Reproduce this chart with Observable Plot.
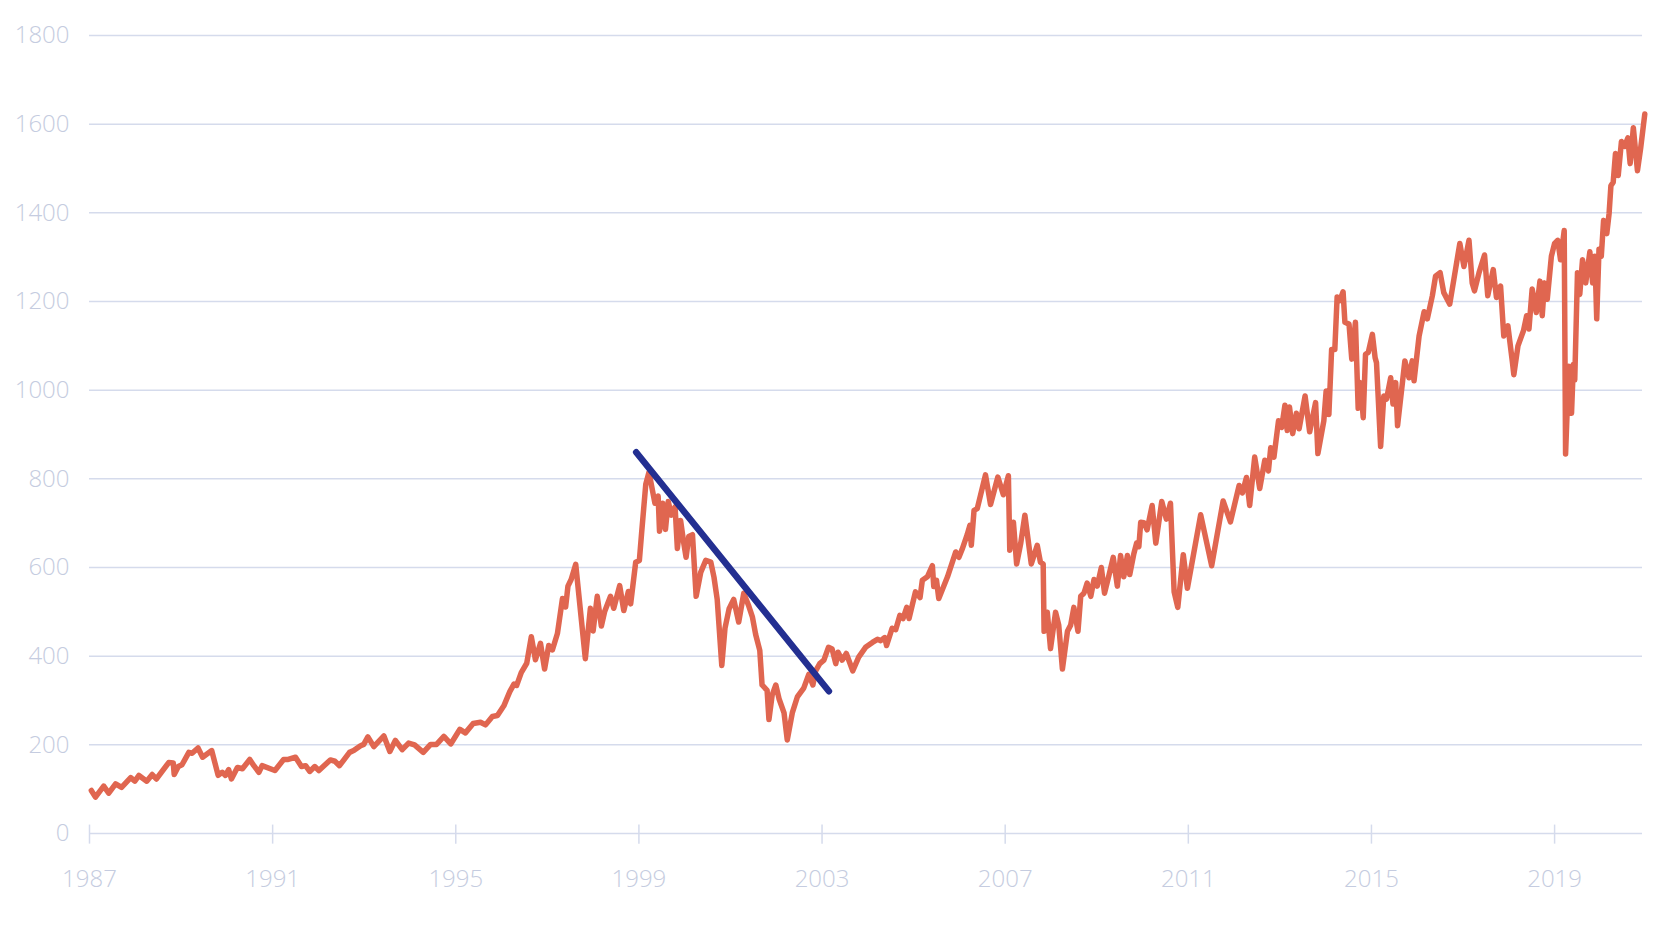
<!DOCTYPE html>
<html>
<head>
<meta charset="utf-8">
<script src="https://cdn.jsdelivr.net/npm/d3@7"></script>
<script src="https://cdn.jsdelivr.net/npm/@observablehq/plot@0.6"></script>
<style>
  html, body { margin: 0; padding: 0; background: #ffffff; }
  #chart svg { display: block; }
</style>
</head>
<body>
<div id="chart"></div>
<script>
// ---- data ----
const years = [
  1987.04,1987.13,1987.31,1987.42,1987.57,1987.70,1987.90,1987.99,1988.08,1988.25,1988.37,1988.46,1988.73,1988.83,1988.85,1988.94,
  1989.02,1989.17,1989.24,1989.37,1989.47,1989.67,1989.81,1989.90,1989.97,1990.04,1990.10,1990.23,1990.34,1990.50,1990.59,1990.70,1990.77,
  1991.05,1991.24,1991.34,1991.50,1991.63,1991.72,1991.81,1991.92,1992.01,1992.26,1992.36,1992.46,1992.68,1992.77,1992.92,1992.99,
  1993.08,1993.21,1993.43,1993.56,1993.68,1993.83,1993.97,1994.10,1994.29,1994.45,1994.58,1994.74,1994.89,
  1995.09,1995.21,1995.38,1995.54,1995.65,1995.80,1995.91,1996.05,1996.18,1996.27,1996.33,1996.43,1996.55,1996.65,1996.74,1996.85,1996.94,
  1997.03,1997.11,1997.22,1997.33,1997.40,1997.45,1997.52,1997.62,1997.83,1997.94,1998.00,1998.09,1998.18,1998.25,1998.38,1998.45,1998.58,
  1998.67,1998.77,1998.82,1998.93,1999.01,1999.06,1999.15,1999.22,1999.35,1999.42,1999.45,1999.52,1999.58,1999.64,1999.71,1999.79,1999.84,
  1999.91,1999.98,2000.03,2000.09,2000.17,2000.25,2000.35,2000.46,2000.57,2000.64,2000.71,2000.81,2000.88,2000.97,2001.07,2001.18,2001.29,
  2001.40,2001.48,2001.55,2001.64,2001.69,2001.80,2001.84,2001.91,2001.99,2002.06,2002.17,2002.24,2002.35,2002.46,2002.60,2002.71,2002.80,
  2002.86,2002.95,2003.04,2003.14,2003.22,2003.30,2003.35,2003.44,2003.53,2003.67,2003.80,2003.95,2004.10,2004.21,2004.28,2004.37,2004.41,
  2004.53,2004.61,2004.70,2004.77,2004.85,2004.90,2005.04,2005.14,2005.19,2005.30,2005.41,2005.44,2005.50,2005.55,2005.74,2005.92,2005.99,
  2006.06,2006.17,2006.23,2006.26,2006.32,2006.39,2006.57,2006.68,2006.84,2006.96,2007.07,2007.10,2007.18,2007.25,2007.34,2007.43,2007.57,
  2007.70,2007.77,2007.83,2007.85,2007.92,2007.99,2008.10,2008.17,2008.25,2008.36,2008.43,2008.50,2008.59,2008.65,2008.72,2008.79,2008.87,
  2008.94,2009.01,2009.10,2009.17,2009.27,2009.36,2009.45,2009.52,2009.59,2009.67,2009.72,2009.81,2009.87,2009.92,2009.96,2010.03,2010.10,
  2010.21,2010.29,2010.42,2010.52,2010.61,2010.69,2010.77,2010.89,2010.98,2011.27,2011.51,2011.76,2011.92,2012.11,2012.18,2012.27,2012.34,
  2012.45,2012.56,2012.67,2012.75,2012.80,2012.87,2012.97,2013.04,2013.11,2013.16,2013.21,2013.28,2013.36,2013.42,2013.55,2013.65,2013.78,
  2013.83,2013.96,2014.01,2014.07,2014.13,2014.20,2014.25,2014.31,2014.38,2014.42,2014.51,2014.57,2014.65,2014.71,2014.76,2014.82,2014.87,
  2014.93,2015.02,2015.08,2015.11,2015.20,2015.27,2015.33,2015.42,2015.47,2015.53,2015.57,2015.73,2015.82,2015.89,2015.93,2016.04,2016.15,
  2016.22,2016.33,2016.40,2016.50,2016.58,2016.71,2016.80,2016.93,2017.02,2017.13,2017.20,2017.25,2017.35,2017.47,2017.54,2017.66,2017.73,
  2017.82,2017.89,2017.98,2018.08,2018.11,2018.20,2018.32,2018.39,2018.44,2018.51,2018.60,2018.68,2018.73,2018.78,2018.84,2018.93,2019.00,
  2019.07,2019.13,2019.21,2019.24,2019.31,2019.37,2019.41,2019.44,2019.50,2019.55,2019.61,2019.68,2019.77,2019.83,2019.88,2019.92,2019.97,
  2020.02,2020.07,2020.14,2020.19,2020.23,2020.28,2020.33,2020.39,2020.46,2020.53,2020.60,2020.65,2020.72,2020.81,2020.88,2020.97
];
const values = [
  97,82,107,91,112,104,126,118,131,118,133,123,160,159,133,151,
  155,183,181,193,172,187,131,138,131,144,123,149,146,167,153,138,153,
  142,167,167,172,151,153,140,151,142,166,163,153,183,187,198,201,
  218,196,220,185,210,189,204,200,183,201,201,219,202,
  235,227,248,251,245,264,266,288,320,337,334,363,384,444,392,429,371,
  424,414,451,530,511,558,573,607,394,508,457,535,468,500,535,508,559,
  503,546,518,612,616,679,788,815,745,761,682,745,686,749,718,737,643,
  706,655,623,670,674,535,589,616,612,578,528,379,463,507,528,477,542,
  513,488,449,413,335,323,257,312,335,304,272,211,272,308,328,359,335,
  367,383,391,420,416,383,409,391,406,367,398,420,431,438,435,442,424,
  463,460,492,485,510,485,545,532,571,579,604,557,571,530,579,635,623,
  641,674,695,650,729,733,809,742,804,764,807,639,702,608,655,718,608,
  650,612,608,456,499,417,499,470,371,456,470,510,456,535,542,565,535,
  573,558,600,542,584,623,558,627,579,627,584,631,655,647,702,701,685,
  740,655,749,709,745,545,510,629,553,719,604,750,703,785,768,803,740,
  849,778,842,818,870,849,931,916,966,909,962,902,948,913,987,906,972,
  857,931,998,945,1092,1092,1210,1202,1222,1153,1149,1070,1153,959,1017,938,1081,
  1085,1126,1073,1062,873,987,980,1028,969,1017,920,1066,1028,1066,1021,1122,1177,
  1161,1213,1257,1265,1220,1194,1250,1331,1279,1338,1242,1224,1265,1305,1213,1272,1209,
  1235,1122,1145,1062,1035,1100,1134,1168,1138,1228,1175,1246,1168,1242,1205,1302,1331,
  1338,1294,1360,856,1054,948,1058,1023,1265,1216,1294,1242,1312,1242,1302,1161,1318,
  1302,1383,1353,1398,1461,1469,1534,1484,1561,1550,1569,1511,1592,1495,1546,1623
];
const trendYears = [1998.94, 2003.15];
const trendValues = [860, 321];
const yearTicks = [1987, 1991, 1995, 1999, 2003, 2007, 2011, 2015, 2019];
const valueTicks = [0, 200, 400, 600, 800, 1000, 1200, 1400, 1600, 1800];

// ---- tables built from the arrays ----
const series = years.map((t, i) => ({t, v: values[i]}));
const trend = trendYears.map((t, i) => ({t, v: trendValues[i]}));

const labelColor = "#c5cce0";
const gridColor = "#d5dbec";
const fontFam = "'Open Sans', 'Noto Sans', sans-serif";

const chart = Plot.plot({
  width: 1679,
  height: 926,
  marginLeft: 89,
  marginRight: 37,
  marginTop: 35,
  marginBottom: 93,
  x: {domain: [1987, 2020.92]},
  y: {domain: [0, 1800]},
  style: {fontFamily: fontFam, fontSize: "24px", background: "#ffffff", color: labelColor},
  marks: [
    Plot.gridY(valueTicks, {stroke: gridColor, strokeOpacity: 1, strokeWidth: 1.5}),
    Plot.axisY(valueTicks, {tickSize: 0, tickPadding: 20, label: null, fill: labelColor, fontSize: 24, fontWeight: 300, tickFormat: d => String(d)}),
    Plot.axisX(yearTicks, {tickSize: 0, tickPadding: 36, label: null, fill: labelColor, fontSize: 24, fontWeight: 300, tickFormat: d => String(d)}),
    Plot.ruleX(yearTicks, {y1: -24, y2: 19, stroke: gridColor, strokeWidth: 1.5}),
    Plot.line(series, {x: "t", y: "v", stroke: "#e06650", strokeWidth: 5.5, strokeLinejoin: "round", strokeLinecap: "round"}),
    Plot.line(trend, {x: "t", y: "v", stroke: "#232f91", strokeWidth: 6.5, strokeLinecap: "round"})
  ]
});
document.getElementById("chart").appendChild(chart);
</script>
</body>
</html>
